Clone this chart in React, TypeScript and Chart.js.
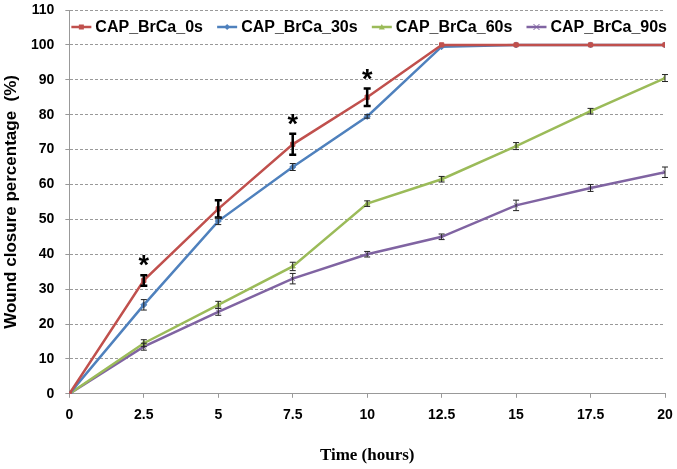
import React, { useEffect, useRef } from "react";
import { Chart, registerables } from "chart.js";

Chart.register(...registerables);

const hours = [0, 2.5, 5, 7.5, 10, 12.5, 15, 17.5, 20];
const seriesNames = ["CAP_BrCa_0s", "CAP_BrCa_30s", "CAP_BrCa_60s", "CAP_BrCa_90s"];
const s0 = [0, 32.5, 53, 71.5, 85, 100, 100, 100, 100];
const s30 = [0, 25.5, 49.5, 65, 79.5, 99.5, 100, 100, 100];
const s60 = [0, 14.5, 25.5, 36.5, 54.5, 61.5, 71, 81, 90.5];
const s90 = [0, 13.5, 23.5, 33, 40, 45, 54, 59, 63.5];
const e0 = [0, 1.5, 2.5, 3, 2.5, 0, 0, 0, 0];
const e30 = [0, 1.5, 1, 1, 0.5, 0, 0, 0, 0];
const e60 = [0, 1, 1, 1.2, 0.8, 0.8, 1, 0.8, 1];
const e90 = [0, 1, 1, 1.5, 0.8, 0.8, 1.5, 1, 1.5];
const starIndices = [1, 3, 4];
const yTicks = [0, 10, 20, 30, 40, 50, 60, 70, 80, 90, 100, 110];

const colors = ["#C0504D", "#4F81BD", "#9BBB59", "#8064A2"];
const styles = ["rect", "rectRot", "triangle", "crossRot"];
const values = [s0, s30, s60, s90];
const errors = [e0, e30, e60, e90];
const SANS = "'Liberation Sans', Arial, sans-serif";

const errorBarPlugin = {
  id: "errorBars",
  afterDatasetsDraw(chart: any) {
    const ctx = chart.ctx;
    const xs = chart.scales.x;
    const ys = chart.scales.y;
    ctx.save();
    values.forEach((vals, di) => {
      const errs = errors[di];
      vals.forEach((v, i) => {
        const e = errs[i];
        if (!e) return;
        const x = xs.getPixelForValue(hours[i]);
        const yTop = ys.getPixelForValue(v + e);
        const yBot = ys.getPixelForValue(v - e);
        ctx.strokeStyle = di === 0 ? "#000" : "#222";
        ctx.lineWidth = di === 0 ? 2.5 : 1;
        const cap = di === 0 ? 3.5 : 3;
        ctx.beginPath();
        ctx.moveTo(x, yTop);
        ctx.lineTo(x, yBot);
        ctx.moveTo(x - cap, yTop);
        ctx.lineTo(x + cap, yTop);
        ctx.moveTo(x - cap, yBot);
        ctx.lineTo(x + cap, yBot);
        ctx.stroke();
      });
    });
    ctx.fillStyle = "#000";
    ctx.font = "bold 27px " + SANS;
    ctx.textAlign = "center";
    ctx.textBaseline = "alphabetic";
    starIndices.forEach((i) => {
      const x = xs.getPixelForValue(hours[i]);
      const y = ys.getPixelForValue(s0[i] + e0[i]);
      ctx.fillText("*", x, y - 1);
    });
    ctx.restore();
  },
};

const legendPlugin = {
  id: "customLegend",
  afterDraw(chart: any) {
    const ctx = chart.ctx;
    const area = chart.chartArea;
    ctx.save();
    ctx.font = "bold 16px " + SANS;
    ctx.textBaseline = "middle";
    ctx.textAlign = "left";
    const lineW = 20;
    const gapText = 4;
    const widths = seriesNames.map((n) => ctx.measureText(n).width);
    const start = area.left + 2;
    const end = area.right + 2;
    const used = widths.reduce((a, b) => a + b, 0) + seriesNames.length * (lineW + gapText);
    const gap = (end - start - used) / (seriesNames.length - 1);
    const y = area.top + 17;
    let x = start;
    seriesNames.forEach((name, i) => {
      ctx.strokeStyle = colors[i];
      ctx.fillStyle = colors[i];
      ctx.lineWidth = 2.5;
      ctx.beginPath();
      ctx.moveTo(x, y);
      ctx.lineTo(x + lineW, y);
      ctx.stroke();
      const cx = x + lineW / 2;
      ctx.lineWidth = 1;
      ctx.beginPath();
      if (i === 0) {
        ctx.fillRect(cx - 2.5, y - 2.5, 5, 5);
      } else if (i === 1) {
        ctx.moveTo(cx, y - 3);
        ctx.lineTo(cx + 3, y);
        ctx.lineTo(cx, y + 3);
        ctx.lineTo(cx - 3, y);
        ctx.closePath();
        ctx.fill();
      } else if (i === 2) {
        ctx.moveTo(cx, y - 3);
        ctx.lineTo(cx + 3, y + 2.5);
        ctx.lineTo(cx - 3, y + 2.5);
        ctx.closePath();
        ctx.fill();
      } else {
        ctx.moveTo(cx - 3, y - 3);
        ctx.lineTo(cx + 3, y + 3);
        ctx.moveTo(cx + 3, y - 3);
        ctx.lineTo(cx - 3, y + 3);
        ctx.stroke();
      }
      ctx.fillStyle = "#000";
      ctx.fillText(name, x + lineW + gapText, y + 1);
      x += lineW + gapText + widths[i] + gap;
    });
    ctx.restore();
  },
};

export default function App() {
  const ref = useRef<HTMLCanvasElement>(null);
  useEffect(() => {
    document.body.style.margin = "0";
    const chart = new Chart(ref.current!, {
      type: "line",
      data: {
        datasets: values.map((vals, di) => ({
          label: seriesNames[di],
          data: vals.map((v, i) => ({ x: hours[i], y: v })),
          borderColor: colors[di],
          backgroundColor: colors[di],
          borderWidth: 2.5,
          pointStyle: styles[di] as any,
          pointRadius: 3,
          pointBorderWidth: 1,
          tension: 0,
        })),
      },
      options: {
        animation: false,
        responsive: false,
        layout: { padding: { left: 0, right: 12, top: 10, bottom: 0 } },
        plugins: {
          tooltip: { enabled: false },
          legend: { display: false },
        },
        scales: {
          x: {
            type: "linear",
            min: 0,
            max: 20,
            afterBuildTicks: (axis: any) => {
              axis.ticks = hours.map((h) => ({ value: h }));
            },
            afterFit: (axis: any) => {
              axis.paddingRight = 0;
            },
            grid: { drawOnChartArea: false, drawTicks: true, tickLength: 4, color: "#999" },
            border: { color: "#999", width: 1 },
            ticks: {
              color: "#000",
              padding: 9,
              maxRotation: 0,
              font: { family: SANS, size: 14, weight: "bold" },
            },
            title: {
              display: true,
              text: "Time (hours)",
              color: "#000",
              padding: { top: 13, bottom: 3 },
              font: { family: "'Liberation Serif', 'Times New Roman', serif", size: 17, weight: "bold" },
            },
          },
          y: {
            min: 0,
            max: 110,
            afterBuildTicks: (axis: any) => {
              axis.ticks = yTicks.map((v) => ({ value: v }));
            },
            afterFit: (axis: any) => {
              axis.paddingTop = 0;
            },
            grid: { color: "#999", tickLength: 4, tickBorderDash: [] as any, tickColor: "#999" },
            border: { color: "#999", width: 1, dash: [3, 2] },
            ticks: {
              color: "#000",
              padding: 11,
              font: { family: SANS, size: 14, weight: "bold" },
            },
            title: {
              display: true,
              text: "Wound closure percentage  (%)",
              color: "#000",
              padding: { top: 3, bottom: 0 },
              font: { family: SANS, size: 17, weight: "bold", lineHeight: 1 },
            },
          },
        },
      },
      plugins: [errorBarPlugin, legendPlugin],
    });
    return () => chart.destroy();
  }, []);
  return (
    <div style={{ width: 677, height: 469 }}>
      <canvas ref={ref} width={677} height={469} />
    </div>
  );
}
